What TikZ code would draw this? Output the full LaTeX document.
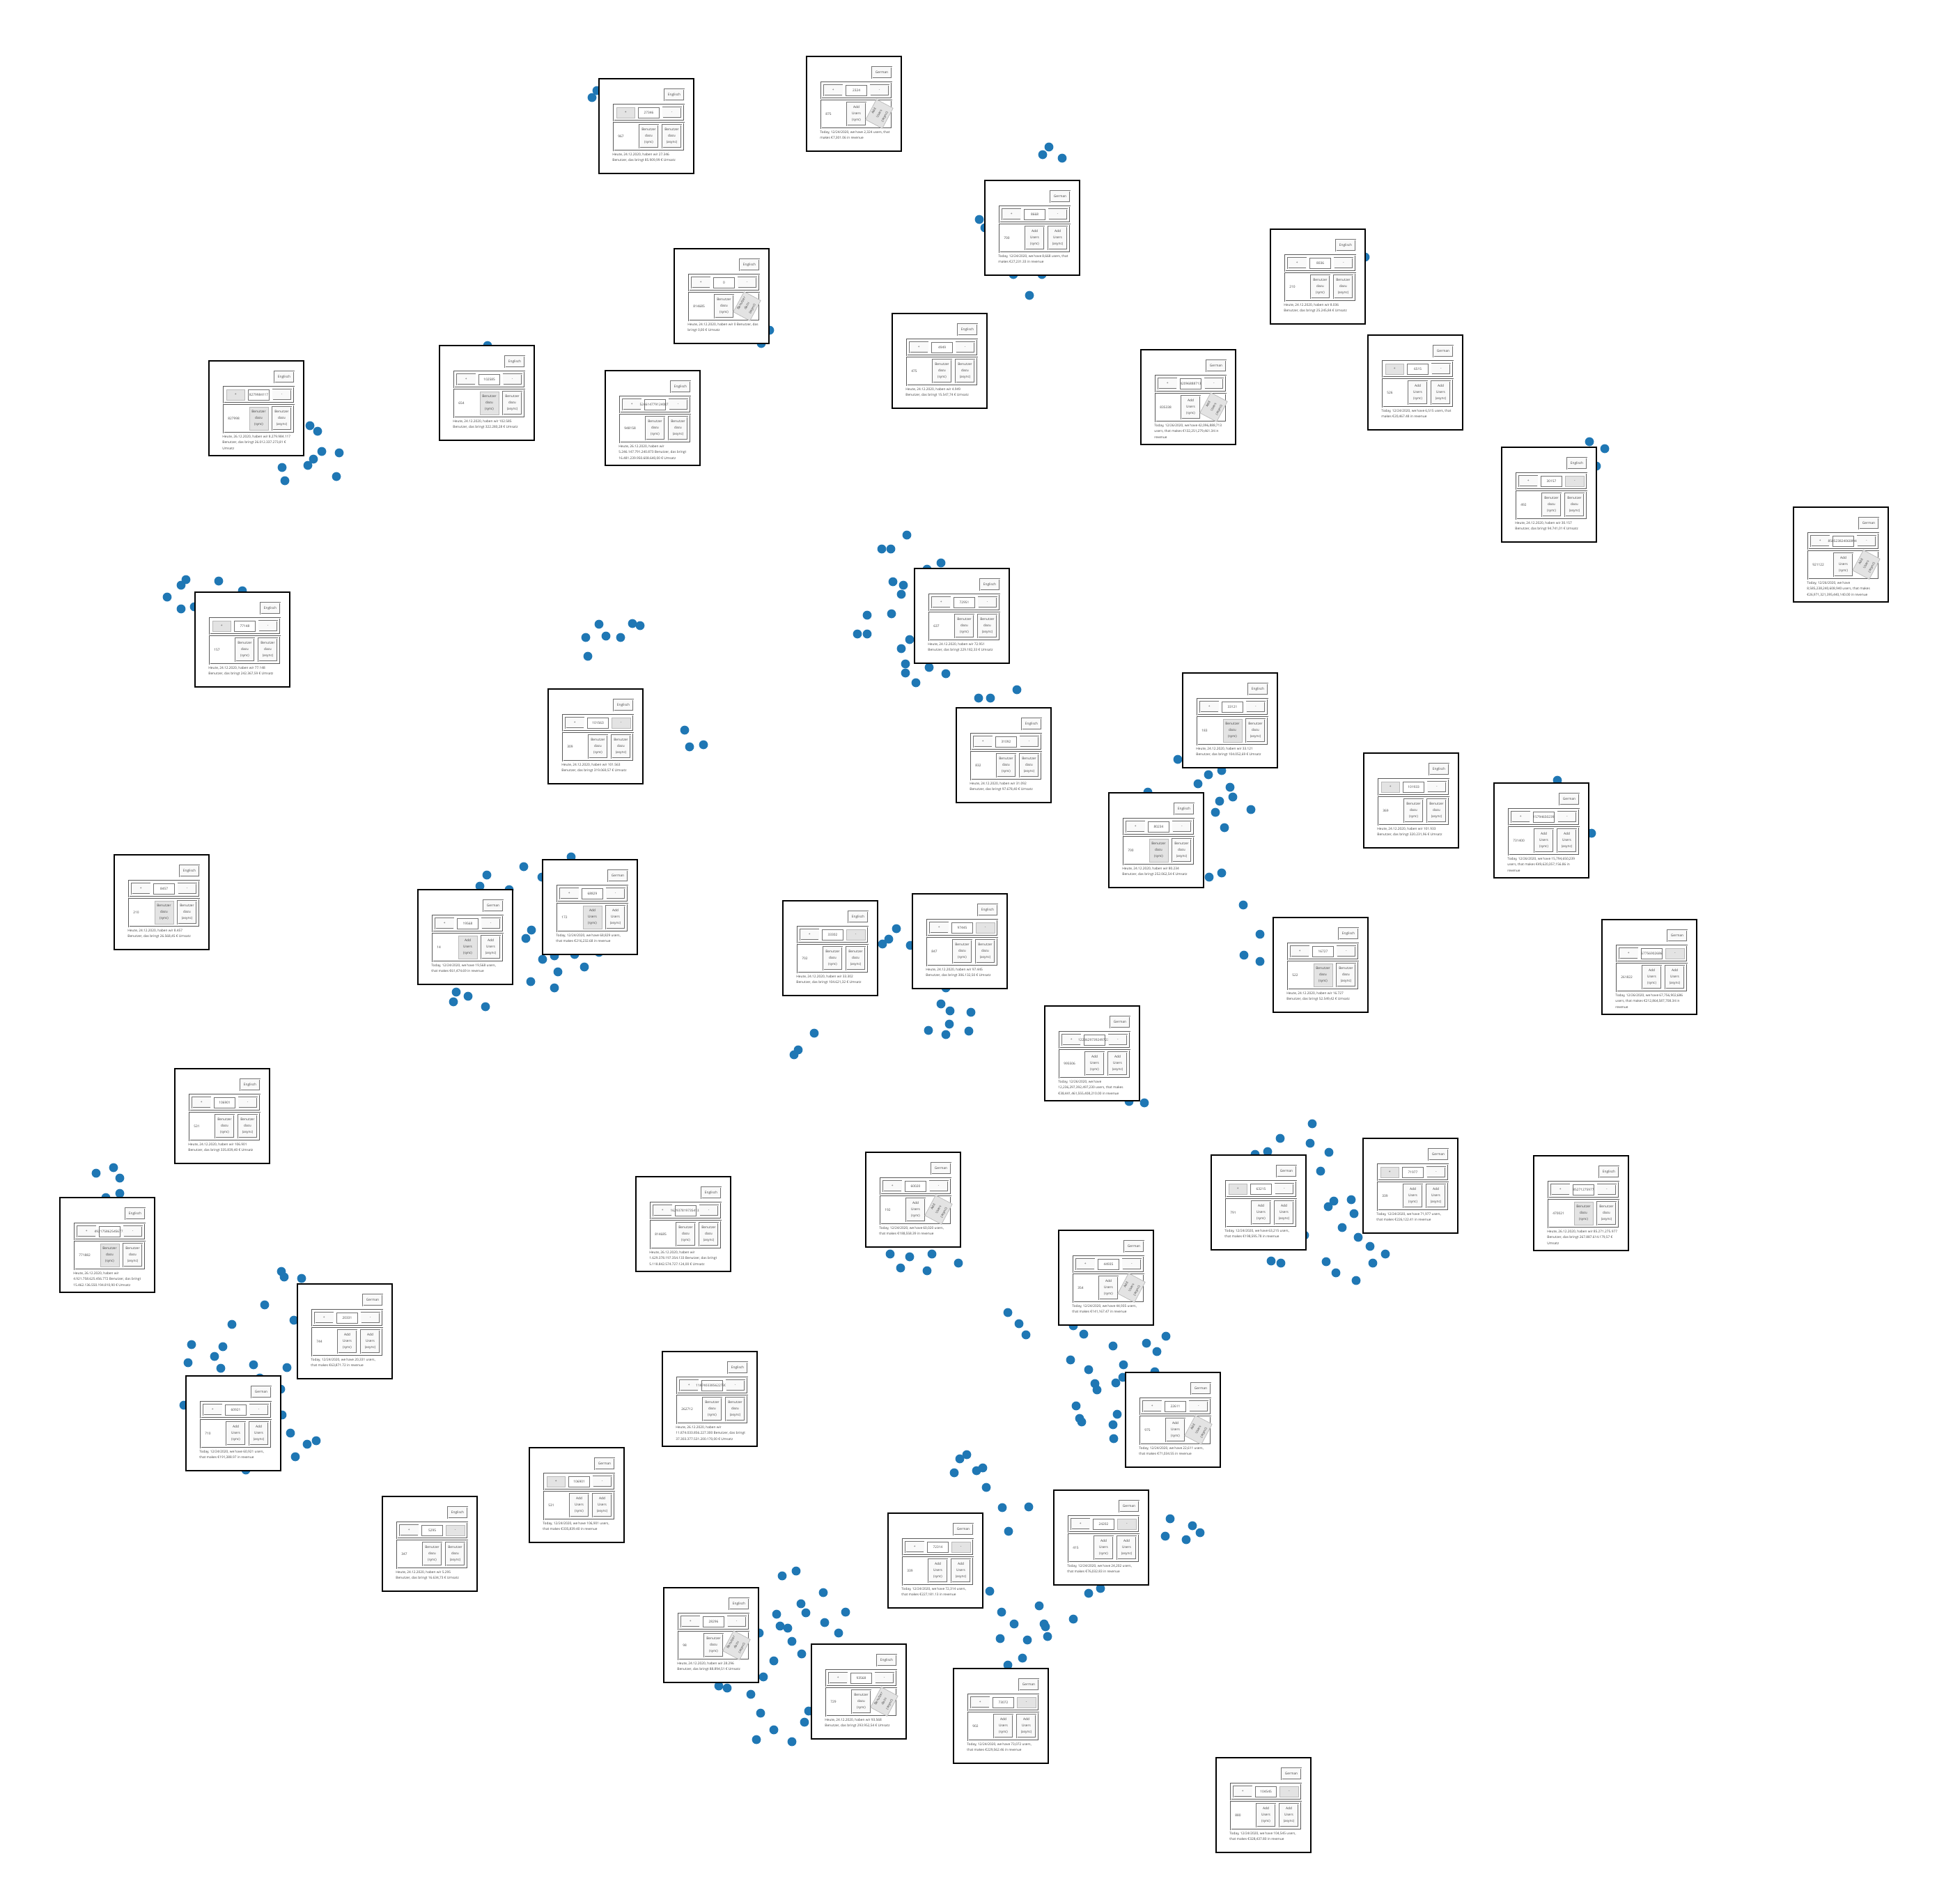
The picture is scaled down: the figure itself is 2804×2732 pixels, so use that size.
\documentclass[tikz,border=0pt]{standalone}
\usepackage{fontspec}
\setmainfont{Open Sans}
\newlength{\fieldwd}
\def\boxfont{\fontsize{2.4}{4.4}\selectfont}
\definecolor{dotblue}{HTML}{1F77B4}
\tikzset{
    x=0.5pt, y=-0.5pt,
    every node/.style={inner sep=0pt, font=\boxfont, text=black!75}
}
\tikzset{
    uiframe/.style={draw=black, line width=0.9pt, fill=white},
    rowbox/.style={draw=black!65, line width=0.35pt, double=white, double distance=0.3pt},
    btn/.style={draw=black!55, line width=0.3pt, double=gray!5, double distance=0.3pt, fill=gray!5},
    hotbtn/.style={draw=gray!55, line width=0.35pt, fill=gray!22},
    fieldbox/.style={draw=black!55, line width=0.35pt, fill=white},
    langbtn/.style={btn, minimum width=14pt, minimum height=8pt},
    deui/.code={\def\bwA{Benutzer}\def\bwB{dazu}\def\langtxt{Englisch}},
    enui/.code={\def\bwA{Add}\def\bwB{Users}\def\langtxt{German}},
    hotplus/.style={plusbtn/.style={hotbtn}},
    hotminus/.style={minusbtn/.style={hotbtn}},
    hotsync/.style={syncbtn/.style={hotbtn}},
    tilt/.style={asyncbtn/.style={hotbtn, rotate=-28}, asynctxt/.style={rotate=62}}
}
\newcommand{\uibox}[7]{%
  \begin{scope}[shift={(#2,#3)}]
    \tikzset{plusbtn/.style={btn}, minusbtn/.style={btn}, syncbtn/.style={btn},
      asyncbtn/.style={btn}, asynctxt/.style={}, #4}
    \settowidth{\fieldwd}{\boxfont #5}
    \pgfmathsetmacro{\fw}{max(30, 2*\fieldwd + 12)}
    \pgfmathsetmacro{\xa}{71.5 - \fw/2 - 5}
    \pgfmathsetmacro{\xb}{71.5 + \fw/2 + 5}
    \draw[uiframe] (0,0) rectangle (136,136);
    \node[langbtn] (#1-lang) at (108,23) {\langtxt};
    \draw[rowbox] (21,37) rectangle (122,60);
    \draw[plusbtn] (25,41) rectangle (\xa,56);
    \node (#1-plus) at ({(25+\xa)/2},48.5) {+};
    \draw[fieldbox] ({71.5-\fw/2},41) rectangle ({71.5+\fw/2},56);
    \node (#1-count) at (71.5,48.5) {#5};
    \draw[minusbtn] (\xb,41) rectangle (118,56);
    \node (#1-minus) at ({(\xb+118)/2},48.5) {-};
    \draw[rowbox] (21,63) rectangle (122,103);
    \node[anchor=west] (#1-num) at (27,83) {#6};
    \draw[syncbtn] (58,66) rectangle (85,99);
    \node[align=center] (#1-sync) at (71.5,82.5) {\bwA\\\bwB\\(sync)};
    \node[asyncbtn, minimum width=13.5pt, minimum height=16.5pt] (#1-async) at (104.5,82.5) {};
    \node[align=center, asynctxt] (#1-atxt) at (104.5,82.5) {\bwA\\\bwB\\(async)};
    \node[anchor=north west, align=left] (#1-info) at (19,106) {#7};
  \end{scope}
}

\begin{document}
\begin{tikzpicture}
  \fill[white] (0,0) rectangle (2804,2732);
  \useasboundingbox (0,0) rectangle (2804,2732);

  \foreach \dx/\dy in {850/140, 857/130, 445/611, 456/619, 462/648, 487/650, 450/659, 442/668,
    405/671, 409/690, 483/684, 700/496, 267/832, 260/840, 314/834, 348/848, 240/857, 260/874,
    279/871, 860/896, 908/895, 919/898, 841/915, 870/913, 891/915, 844/942,
    1506/211, 1497/222, 1525/227, 1406/315, 1414/327, 1455/394, 1496/394, 1478/424, 1105/474,
    1093/493, 1302/768, 1266/788, 1279/788, 1351/808, 1331/817, 1282/835, 1297/840, 1294/853,
    1245/883, 1280/881, 1231/910, 1245/910, 1306/918, 2282/634, 2304/644, 2292/669, 1960/369,
    820/1230, 752/1244, 699/1256, 689/1272, 731/1277, 778/1259, 763/1335, 755/1347, 779/1377,
    796/1372, 825/1370, 860/1367, 801/1395, 839/1388, 762/1409, 796/1418, 655/1424, 672/1430,
    651/1438, 697/1445, 163/1676, 138/1684, 172/1691, 172/1713, 152/1719, 404/1825, 408/1833,
    433/1835, 1294/931, 1300/953, 1300/966, 1334/958, 1358/967, 1315/980, 1405/1002, 1422/1002,
    1460/990, 983/1048, 990/1072, 1010/1069, 1691/1090, 1735/1112, 1754/1106, 1720/1125,
    1766/1130, 1770/1144, 1751/1150, 1796/1162, 1745/1166, 1758/1188, 1648/1137, 1736/1259,
    1754/1253, 1785/1299, 1809/1341, 1786/1371, 1809/1380, 1287/1333, 1276/1348, 1267/1355,
    1307/1357, 1358/1418, 1351/1441, 1364/1451, 1394/1453, 1363/1470, 1333/1479, 1358/1485,
    1391/1480, 1169/1483, 1146/1507, 1140/1514, 1621/1581, 1643/1583, 1838/1634, 1820/1653,
    1802/1657, 1873/1773, 1278/1800, 1306/1804, 1338/1800, 1293/1820, 1331/1824, 1376/1813,
    1825/1810, 1839/1813, 2236/1120, 2285/1196, 1884/1613, 1881/1641, 1908/1654, 1896/1681,
    1915/1724, 1907/1732, 1940/1722, 1944/1742, 1927/1762, 1950/1776, 1967/1789, 1989/1800,
    1904/1811, 1971/1813, 1918/1827, 1947/1838, 380/1873, 333/1901, 422/1895, 275/1930,
    320/1933, 308/1947, 270/1956, 317/1964, 364/1959, 412/1963, 373/1978, 403/1994, 264/2017,
    405/2031, 417/2057, 441/2073, 454/2068, 424/2091, 353/2110, 1447/1884, 1463/1900, 1473/1916,
    1541/1903, 1556/1915, 1598/1932, 1646/1928, 1661/1940, 1674/1918, 1537/1952, 1563/1966,
    1613/1959, 1612/1977, 1658/1969, 1572/1986, 1575/1995, 1602/1985, 1545/2018, 1604/2030,
    1550/2036, 1553/2041, 1598/2045, 1599/2065, 1388/2088, 1378/2094, 1370/2114, 1402/2111,
    1411/2107, 1416/2135, 1439/2164, 1477/2163, 1448/2198, 1680/2180, 1712/2190, 1673/2205,
    1703/2210, 1723/2200, 1123/2262, 1143/2255, 1182/2286, 1150/2302, 1115/2317, 1157/2315,
    1214/2314, 1184/2329, 1120/2334, 1131/2337, 1204/2344, 1090/2344, 1137/2356, 1151/2374,
    1111/2384, 1096/2407, 1032/2420, 1044/2423, 1078/2432, 1092/2459, 1161/2456, 1155/2472,
    1111/2483, 1086/2497, 1137/2500, 1421/2284, 1563/2287, 1580/2280, 1438/2314, 1492/2305,
    1456/2331, 1499/2331, 1501/2335, 1541/2324, 1436/2352, 1475/2354, 1504/2349, 1468/2380,
    1447/2390}
    \fill[dotblue] (\dx,\dy) circle (3.2pt);

  \uibox{b1}{860}{113}{deui,hotplus}{27346}{967}{Heute, 24.12.2020, haben wir 27.346\\Benutzer, das bringt 85.909,99 € Umsatz}
  \uibox{b2}{1158}{81}{enui,tilt}{2324}{875}{Today, 12/24/2020, we have 2,324 users, that\\makes €7,301.06 in revenue}
  \uibox{b3}{1414}{259}{enui}{8668}{700}{Today, 12/24/2020, we have 8,668 users, that\\makes €27,231.33 in revenue}
  \uibox{b4}{1824}{329}{deui}{8036}{210}{Heute, 24.12.2020, haben wir 8.036\\Benutzer, das bringt 25.245,84 € Umsatz}
  \uibox{b5}{968}{357}{deui,tilt}{0}{814685}{Heute, 24.12.2020, haben wir 0 Benutzer, das\\bringt 0,00 € Umsatz}
  \uibox{b6}{1281}{450}{deui}{4949}{475}{Heute, 24.12.2020, haben wir 4.949\\Benutzer, das bringt 15.547,74 € Umsatz}
  \uibox{b7}{300}{518}{deui,hotplus,hotsync}{8279984117}{827998}{Heute, 26.12.2020, haben wir 8.279.984.117\\Benutzer, das bringt 26.012.337.273,81 €\\Umsatz}
  \uibox{b8}{631}{496}{deui,hotsync}{102585}{654}{Heute, 24.12.2020, haben wir 102.585\\Benutzer, das bringt 322.280,28 € Umsatz}
  \uibox{b9}{869}{532}{deui}{5246147791240873}{948158}{Heute, 26.12.2020, haben wir\\5.246.147.791.240.873 Benutzer, das bringt\\16.481.239.950.608.640,00 € Umsatz}
  \uibox{b10}{1638}{502}{enui,tilt}{42096888713}{835338}{Today, 12/26/2020, we have 42,096,888,713\\users, that makes €132,251,279,461.34 in\\revenue}
  \uibox{b11}{1964}{481}{enui,hotplus}{6515}{526}{Today, 12/24/2020, we have 6,515 users, that\\makes €20,467.48 in revenue}
  \uibox{b12}{2156}{642}{deui,hotminus}{30157}{492}{Heute, 24.12.2020, haben wir 30.157\\Benutzer, das bringt 94.741,01 € Umsatz}
  \uibox{b13}{2575}{728}{enui,tilt}{8585238240608940}{921122}{Today, 12/26/2020, we have\\8,585,238,240,608,940 users, that makes\\€26,971,321,395,440,140.00 in revenue}
  \uibox{b14}{1313}{816}{deui}{72951}{637}{Heute, 24.12.2020, haben wir 72.951\\Benutzer, das bringt 229.182,33 € Umsatz}
  \uibox{b15}{280}{850}{deui,hotplus}{77148}{157}{Heute, 24.12.2020, haben wir 77.148\\Benutzer, das bringt 242.367,59 € Umsatz}
  \uibox{b16}{787}{989}{deui,hotminus}{101563}{309}{Heute, 24.12.2020, haben wir 101.563\\Benutzer, das bringt 319.069,57 € Umsatz}
  \uibox{b17}{1373}{1016}{deui}{31092}{832}{Heute, 24.12.2020, haben wir 31.092\\Benutzer, das bringt 97.678,40 € Umsatz}
  \uibox{b18}{1698}{966}{deui,hotsync}{33121}{183}{Heute, 24.12.2020, haben wir 33.121\\Benutzer, das bringt 104.052,69 € Umsatz}
  \uibox{b19}{1958}{1081}{deui,hotplus}{101933}{369}{Heute, 24.12.2020, haben wir 101.933\\Benutzer, das bringt 320.231,96 € Umsatz}
  \uibox{b20}{2145}{1124}{enui}{15794650239}{731400}{Today, 12/26/2020, we have 15,794,650,239\\users, that makes €49,620,357,156.86 in\\revenue}
  \uibox{b21}{1592}{1138}{deui,hotsync}{80234}{700}{Heute, 24.12.2020, haben wir 80.234\\Benutzer, das bringt 252.062,54 € Umsatz}
  \uibox{b22}{164}{1227}{deui,hotsync}{8457}{210}{Heute, 24.12.2020, haben wir 8.457\\Benutzer, das bringt 26.568,45 € Umsatz}
  \uibox{b23}{779}{1234}{enui,hotsync}{68829}{172}{Today, 12/24/2020, we have 68,829 users,\\that makes €216,232.68 in revenue}
  \uibox{b24}{600}{1277}{enui,hotsync}{19568}{14}{Today, 12/24/2020, we have 19,568 users,\\that makes €61,474.69 in revenue}
  \uibox{b25}{1124}{1293}{deui,hotminus}{33302}{702}{Heute, 24.12.2020, haben wir 33.302\\Benutzer, das bringt 104.621,32 € Umsatz}
  \uibox{b26}{1310}{1283}{deui,hotminus}{97445}{847}{Heute, 24.12.2020, haben wir 97.445\\Benutzer, das bringt 306.132,50 € Umsatz}
  \uibox{b27}{1828}{1317}{deui,hotsync}{16727}{522}{Heute, 24.12.2020, haben wir 16.727\\Benutzer, das bringt 52.549,42 € Umsatz}
  \uibox{b28}{2300}{1320}{enui,hotminus}{67756902686}{261822}{Today, 12/26/2020, we have 67,756,902,686\\users, that makes €212,864,587,708.34 in\\revenue}
  \uibox{b29}{1500}{1444}{enui}{12236297392497230}{995506}{Today, 12/26/2020, we have\\12,236,297,392,497,230 users, that makes\\€38,441,461,555,408,210.00 in revenue}
  \uibox{b30}{251}{1534}{deui}{106901}{531}{Heute, 24.12.2020, haben wir 106.901\\Benutzer, das bringt 335.839,40 € Umsatz}
  \uibox{b31}{86}{1719}{deui,hotsync}{4921758625456772}{771882}{Heute, 26.12.2020, haben wir\\4.921.758.625.456.772 Benutzer, das bringt\\15.462.136.550.194.810,90 € Umsatz}
  \uibox{b32}{913}{1689}{deui}{1629378197354133}{814685}{Heute, 26.12.2020, haben wir\\1.629.378.197.354.133 Benutzer, das bringt\\5.118.842.574.727.124,00 € Umsatz}
  \uibox{b33}{1243}{1654}{enui,tilt}{60020}{192}{Today, 12/24/2020, we have 60,020 users,\\that makes €188,558.39 in revenue}
  \uibox{b34}{1739}{1658}{enui,hotplus}{63215}{791}{Today, 12/24/2020, we have 63,215 users,\\that makes €198,595.78 in revenue}
  \uibox{b35}{1957}{1634}{enui,hotplus}{71977}{339}{Today, 12/24/2020, we have 71,977 users,\\that makes €226,122.41 in revenue}
  \uibox{b36}{2202}{1659}{deui,hotsync}{85271275977}{470021}{Heute, 26.12.2020, haben wir 85.271.275.977\\Benutzer, das bringt 267.887.614.179,57 €\\Umsatz}
  \uibox{b37}{1520}{1766}{enui,tilt}{44935}{354}{Today, 12/24/2020, we have 44,935 users,\\that makes €141,167.47 in revenue}
  \uibox{b38}{427}{1843}{enui}{20331}{744}{Today, 12/24/2020, we have 20,331 users,\\that makes €63,871.72 in revenue}
  \uibox{b39}{267}{1975}{enui}{60921}{710}{Today, 12/24/2020, we have 60,921 users,\\that makes €191,388.97 in revenue}
  \uibox{b40}{951}{1940}{deui}{11874033856227300}{262712}{Heute, 26.12.2020, haben wir\\11.874.033.856.227.300 Benutzer, das bringt\\37.303.377.531.200.170,00 € Umsatz}
  \uibox{b41}{1616}{1970}{enui,tilt}{22611}{975}{Today, 12/24/2020, we have 22,611 users,\\that makes €71,034.55 in revenue}
  \uibox{b42}{760}{2078}{enui,hotplus}{106901}{531}{Today, 12/24/2020, we have 106,901 users,\\that makes €335,839.40 in revenue}
  \uibox{b43}{549}{2148}{deui,hotminus}{5295}{347}{Heute, 24.12.2020, haben wir 5.295\\Benutzer, das bringt 16.634,73 € Umsatz}
  \uibox{b44}{1275}{2172}{enui,hotminus}{72314}{339}{Today, 12/24/2020, we have 72,314 users,\\that makes €227,181.13 in revenue}
  \uibox{b45}{1513}{2139}{enui,hotminus}{24202}{415}{Today, 12/24/2020, we have 24,202 users,\\that makes €76,032.83 in revenue}
  \uibox{b46}{953}{2279}{deui,tilt}{28296}{98}{Heute, 24.12.2020, haben wir 28.296\\Benutzer, das bringt 88.894,51 € Umsatz}
  \uibox{b47}{1165}{2360}{deui,tilt}{93568}{729}{Heute, 24.12.2020, haben wir 93.568\\Benutzer, das bringt 293.952,54 € Umsatz}
  \uibox{b48}{1369}{2395}{enui,hotminus}{73072}{902}{Today, 12/24/2020, we have 73,072 users,\\that makes €229,562.46 in revenue}
  \uibox{b49}{1746}{2523}{enui,hotminus}{104545}{880}{Today, 12/24/2020, we have 104,545 users,\\that makes €328,437.80 in revenue}
\end{tikzpicture}
\end{document}
